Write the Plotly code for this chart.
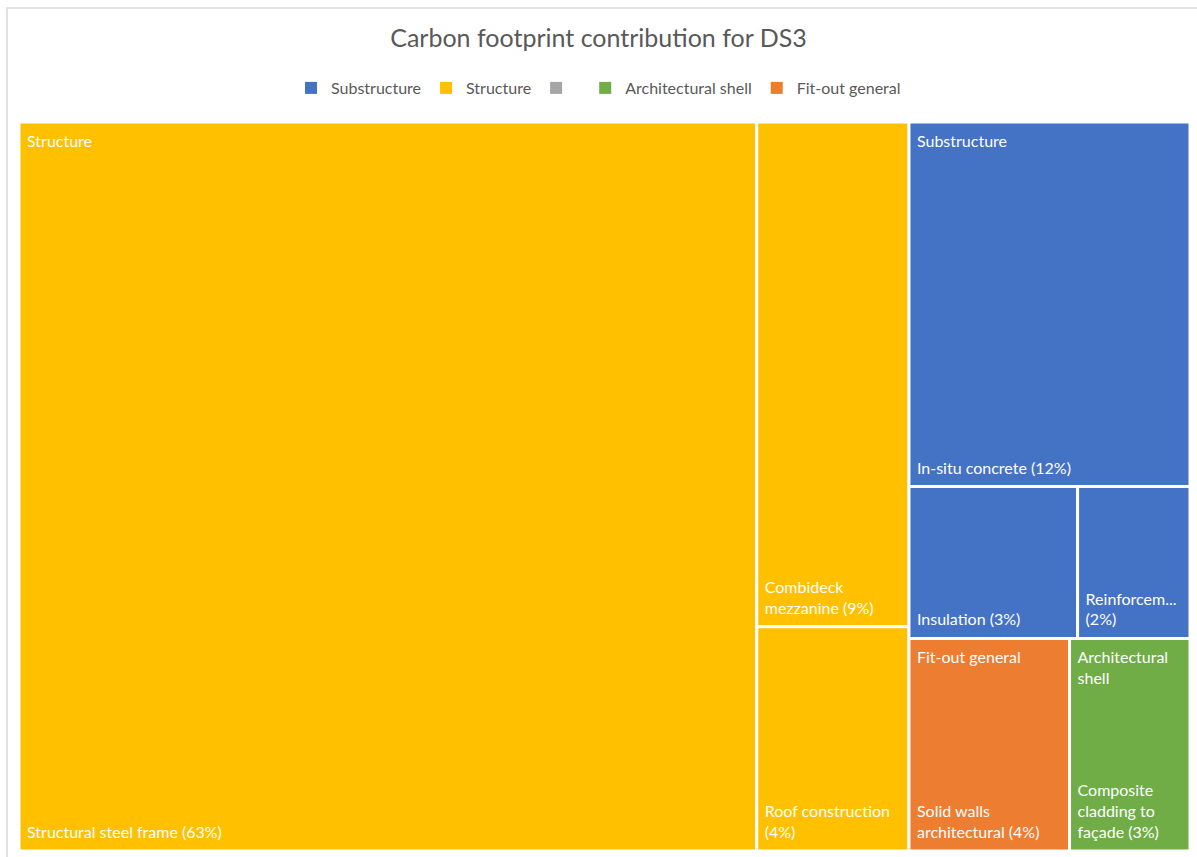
import plotly.graph_objects as go

# ---- data ----
groups = ["Structure", "Substructure", "Fit-out general", "Architectural shell"]
group_colors = ["#FFC000", "#4472C4", "#ED7D31", "#70AD47"]
group_heads = ["Structure", "Substructure", "Fit-out general", "Architectural<br>shell"]

items = ["Structural steel frame", "Combideck mezzanine", "Roof construction",
         "In-situ concrete", "Insulation", "Reinforcement",
         "Solid walls architectural", "Composite cladding to façade"]
item_group = ["Structure", "Structure", "Structure",
              "Substructure", "Substructure", "Substructure",
              "Fit-out general", "Architectural shell"]
item_values = [63, 9, 4, 12, 3, 2, 4, 3]
item_text = ["Structural steel frame (63%)", "Combideck<br>mezzanine (9%)", "Roof construction<br>(4%)",
             "In-situ concrete (12%)", "Insulation (3%)", "Reinforcem...<br>(2%)",
             "Solid walls<br>architectural (4%)", "Composite<br>cladding to<br>façade (3%)"]

legend_names = ["Substructure", "Structure", " ", "Architectural shell", "Fit-out general"]
legend_colors = ["#4472C4", "#FFC000", "#A5A5A5", "#70AD47", "#ED7D31"]

title_text = "Carbon footprint contribution for DS3"

# ---- build hierarchy ----
gvals = [sum(v for v, g in zip(item_values, item_group) if g == grp) for grp in groups]
cmap = dict(zip(groups, group_colors))
hmap = dict(zip(groups, group_heads))

ids = groups + items
labels = groups + items
parents = [""] * len(groups) + item_group
values = gvals + item_values
colors = group_colors + [cmap[g] for g in item_group]

leaf_text = [""] * len(groups) + item_text
seen = set()
head_text = [""] * len(groups)
for g in item_group:
    if g not in seen:
        head_text.append(hmap[g])
        seen.add(g)
    else:
        head_text.append("")

W, H = 1197, 857
font_family = "Lato, 'Liberation Sans', sans-serif"


def dom(dx=0, dy=0):
    # plot rectangle in pixels: x 19..1190, y 122..851 (dy>0 moves down)
    return dict(x=[(19 + dx) / W, (1190 + dx) / W],
                y=[max(0, 1 - (851 + dy) / H), 1 - (122 + dy) / H])


common = dict(ids=ids, labels=labels, parents=parents, values=values,
              branchvalues="total", sort=True,
              tiling=dict(packing="squarify", pad=0),
              pathbar=dict(visible=False))
tf = dict(family=font_family, size=16, color="white")

fig = go.Figure()
fig.add_trace(go.Treemap(
    **common,
    marker=dict(colors=colors, line=dict(color="white", width=3),
                pad=dict(t=0, l=0, r=0, b=0)),
    texttemplate=" ", hoverinfo="label+value",
    domain=dom(), root=dict(color="white"),
))
transparent = dict(colors=["rgba(0,0,0,0)"] * len(ids),
                   line=dict(color="rgba(0,0,0,0)", width=0),
                   pad=dict(t=0, l=0, r=0, b=0))
fig.add_trace(go.Treemap(
    **common, marker=transparent,
    text=head_text, texttemplate="%{text}", textposition="top left",
    textfont=tf, hoverinfo="skip",
    domain=dom(5, 6), root=dict(color="rgba(0,0,0,0)"),
))
fig.add_trace(go.Treemap(
    **common, marker=transparent,
    text=leaf_text, texttemplate="%{text}", textposition="bottom left",
    textfont=tf, hoverinfo="skip",
    domain=dom(5, -7), root=dict(color="rgba(0,0,0,0)"),
))

for n, c in zip(legend_names, legend_colors):
    fig.add_trace(go.Scatter(x=[None], y=[None], mode="markers", name=n,
                             marker=dict(symbol="square", size=11, color=c)))

fig.update_layout(
    width=W, height=H,
    margin=dict(l=0, r=0, t=0, b=0),
    paper_bgcolor="white", plot_bgcolor="white",
    title=dict(text=title_text, x=0.5, xanchor="center", y=1 - 38 / H, yanchor="middle",
               font=dict(family=font_family, size=25, color="#595959")),
    legend=dict(orientation="h", x=0.5, xanchor="center", y=1 - 88 / H, yanchor="middle",
                font=dict(family=font_family, size=16, color="#595959"),
                itemsizing="constant", traceorder="normal", itemclick=False),
    xaxis=dict(visible=False), yaxis=dict(visible=False),
    shapes=[dict(type="rect", xref="paper", yref="paper",
                 x0=7 / W, x1=1.01, y0=-0.01, y1=1 - 8 / H,
                 line=dict(color="#D9D9D9", width=1.5), layer="below")],
)

fig.write_html("out.html")
